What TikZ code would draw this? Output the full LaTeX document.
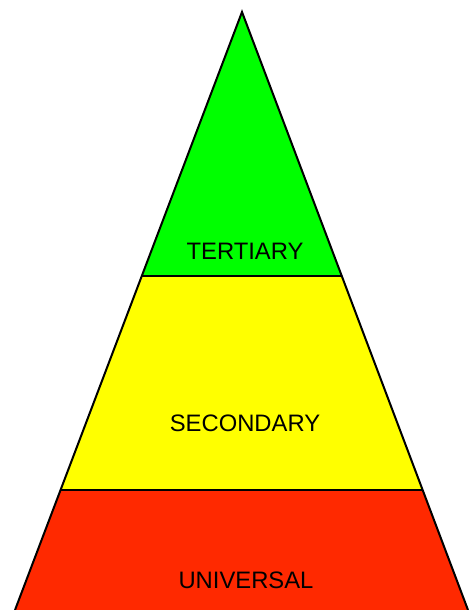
\documentclass[tikz,border=0pt]{standalone}
\usepackage{fontspec}
\setmainfont{Liberation Sans}
\definecolor{tierGreen}{RGB}{0,255,0}
\definecolor{tierYellow}{RGB}{255,255,0}
\definecolor{tierRed}{RGB}{255,41,0}

\begin{document}
\begin{tikzpicture}[
  x=1pt, y=-1pt,
  edge/.style={draw=black, line width=2pt, line join=miter},
  lbl/.style={font=\fontsize{23.8}{26}\selectfont, inner sep=0pt},
]
\useasboundingbox (0,0) rectangle (470,610);

%% Corners
\coordinate (apex) at (242,12);
\coordinate (tl)   at (141.8,276);
\coordinate (tr)   at (341.8,276);
\coordinate (ml)   at (60.5,490);
\coordinate (mr)   at (422.6,490);
\coordinate (bl)   at (15,610);
\coordinate (br)   at (468,610);

%% Tiers
\fill[tierRed]    (ml) -- (mr) -- (br) -- (bl) -- cycle;
\fill[tierYellow] (tl) -- (tr) -- (mr) -- (ml) -- cycle;
\fill[tierGreen]  (apex) -- (tr) -- (tl) -- cycle;

%% Outline
\draw[edge] (bl) -- (apex) -- (br);
\draw[edge] (tl) -- (tr);
\draw[edge] (ml) -- (mr);

%% Labels
\node[lbl] (tertiary)  at (245,251) {TERTIARY};
\node[lbl] (secondary) at (245,423) {SECONDARY};
\node[lbl] (universal) at (246,580) {UNIVERSAL};
\end{tikzpicture}
\end{document}
